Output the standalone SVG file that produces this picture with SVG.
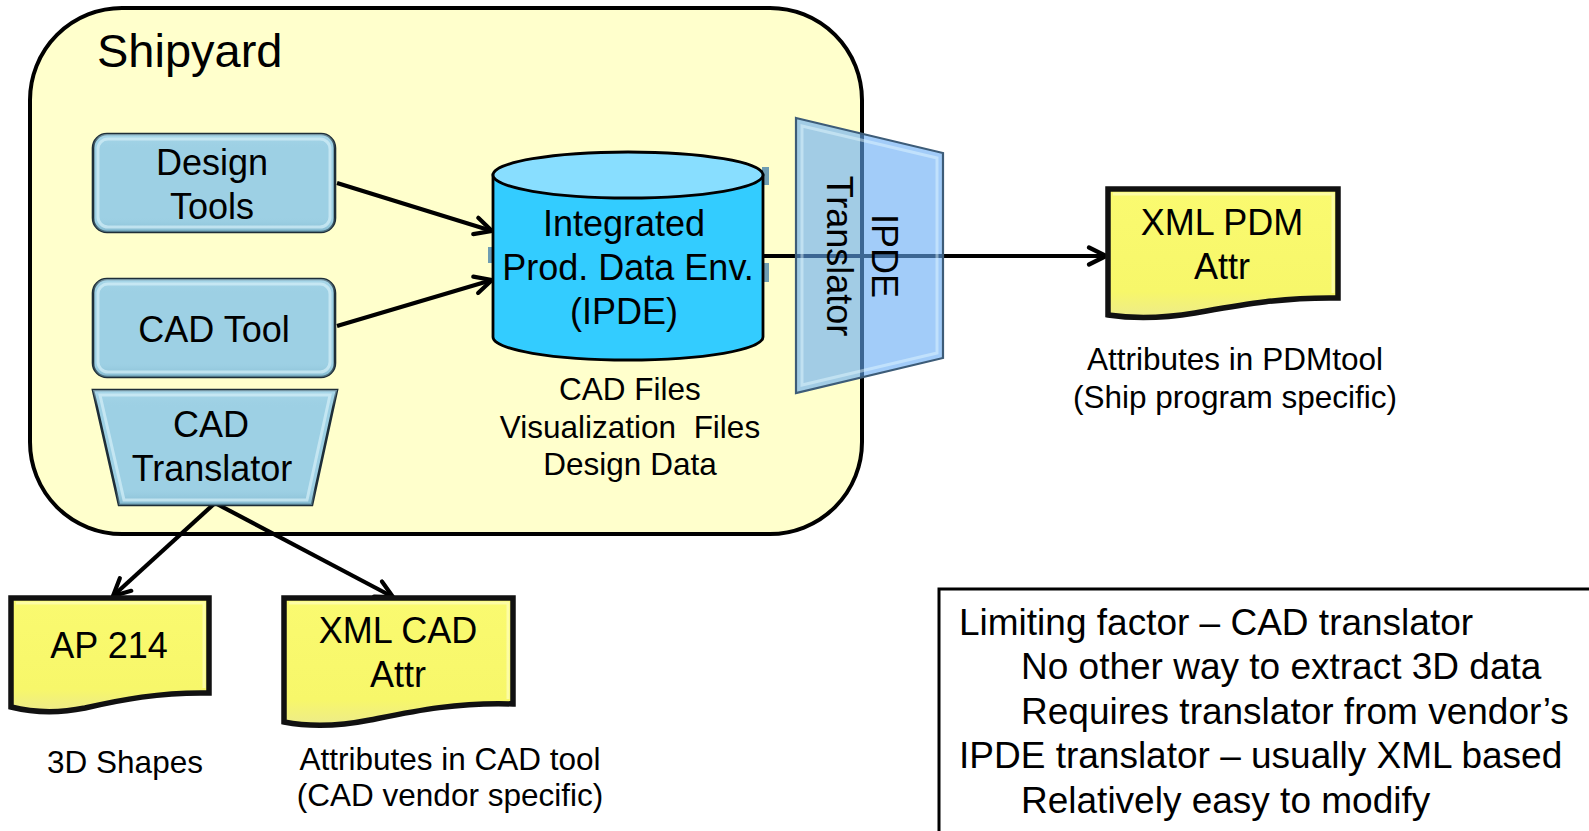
<svg xmlns="http://www.w3.org/2000/svg" width="1589" height="831" viewBox="0 0 1589 831">
  <style>
    text { font-family: "Liberation Sans", Arial, sans-serif; fill: #000; }
    .t36 { font-size: 36px; text-anchor: middle; }
    .cap { font-size: 31.5px; text-anchor: middle; }
    .note { font-size: 37px; }
    .tool { fill: #9DD0E4; stroke: #1E2E38; stroke-width: 2.6; }
    .bevel { fill: none; stroke: #D4F0F8; stroke-width: 3; opacity: 0.7; }
    .doc { fill: url(#docFill); stroke: #111; stroke-width: 5.5; stroke-linejoin: miter; }
    .docBevel { fill: none; stroke: #FFFFC8; stroke-width: 3; opacity: 0.6; }
    .conn { fill: none; stroke: #000; stroke-width: 4.2; marker-end: url(#arrow); }
  </style>
  <defs>
    <marker id="arrow" viewBox="0 0 24 22" refX="21" refY="11" markerWidth="24" markerHeight="22" markerUnits="userSpaceOnUse" orient="auto">
      <path d="M4,2.5 L21,11 L4,19.5" fill="none" stroke="#000" stroke-width="4.2" stroke-linecap="round" stroke-linejoin="round"/>
    </marker>
    <linearGradient id="docFill" x1="0" y1="0" x2="0" y2="1">
      <stop offset="0" stop-color="#FAFA70"/>
      <stop offset="0.8" stop-color="#F7F76A"/>
      <stop offset="1" stop-color="#EDEB8A"/>
    </linearGradient>
    <linearGradient id="toolShade" x1="0" y1="0" x2="0" y2="1">
      <stop offset="0" stop-color="#B4DEEE" stop-opacity="0.6"/>
      <stop offset="0.15" stop-color="#9DD0E4" stop-opacity="0"/>
      <stop offset="0.85" stop-color="#9DD0E4" stop-opacity="0"/>
      <stop offset="1" stop-color="#6FA7BE" stop-opacity="0.6"/>
    </linearGradient>
  </defs>

  <!-- Shipyard boundary -->
  <g id="shipyard">
    <rect x="30" y="8" width="832" height="526" rx="92" ry="92" fill="#FFFFCC" stroke="#000" stroke-width="4"/>
    <text x="97" y="67" font-size="47">Shipyard</text>
  </g>

  <!-- Connectors -->
  <g id="connectors">
    <line class="conn" x1="337" y1="183" x2="492" y2="231"/>
    <line class="conn" x1="337" y1="326" x2="492" y2="280"/>
    <line class="conn" x1="763" y1="256" x2="1106" y2="256"/>
    <line class="conn" x1="215" y1="503" x2="113" y2="596"/>
    <line class="conn" x1="215" y1="503" x2="393" y2="597"/>
  </g>

  <!-- Design Tools -->
  <g id="design-tools">
    <rect class="tool" x="93" y="134" width="242" height="98" rx="14"/>
    <rect x="93" y="134" width="242" height="98" rx="14" fill="url(#toolShade)"/>
    <rect class="bevel" x="98" y="139" width="232" height="88" rx="10"/>
    <text class="t36" x="212" y="175">Design</text>
    <text class="t36" x="212" y="219">Tools</text>
  </g>

  <!-- CAD Tool -->
  <g id="cad-tool">
    <rect class="tool" x="93" y="279" width="242" height="98" rx="14"/>
    <rect x="93" y="279" width="242" height="98" rx="14" fill="url(#toolShade)"/>
    <rect class="bevel" x="98" y="284" width="232" height="88" rx="10"/>
    <text class="t36" x="214" y="342">CAD Tool</text>
  </g>

  <!-- CAD Translator -->
  <g id="cad-translator">
    <polygon class="tool" points="93,390 337,390 312,505 119,505"/>
    <polygon points="93,390 337,390 312,505 119,505" fill="url(#toolShade)"/>
    <polygon class="bevel" points="100,395 330,395 307,500 124,500"/>
    <text class="t36" x="211" y="437">CAD</text>
    <text class="t36" x="212" y="481">Translator</text>
  </g>

  <!-- IPDE data store -->
  <g id="ipde">
    <rect x="762" y="167" width="7" height="18" fill="#6E9DB2"/>
    <rect x="762" y="263" width="7" height="19" fill="#6E9DB2"/>
    <rect x="488" y="247" width="6" height="16" fill="#6E9DB2"/>
    <path d="M493,175 L493,337 A135,23 0 0 0 763,337 L763,175 Z" fill="#33CCFF" stroke="#000" stroke-width="2.8"/>
    <ellipse cx="628" cy="175" rx="135" ry="23" fill="#88DEFF" stroke="#000" stroke-width="2.8"/>
    <text class="t36" x="624" y="236">Integrated</text>
    <text class="t36" x="628" y="280">Prod. Data Env.</text>
    <text class="t36" x="624" y="324">(IPDE)</text>
    <text class="cap" x="630" y="400">CAD Files</text>
    <text class="cap" x="630" y="438" xml:space="preserve">Visualization  Files</text>
    <text class="cap" x="630" y="475">Design Data</text>
  </g>

  <!-- IPDE Translator -->
  <g id="ipde-translator">
    <polygon points="796,118 943,153 943,358 796,393" fill="#64AAF5" fill-opacity="0.6" stroke="#3D5C78" stroke-width="2.2"/>
    <polygon points="802,126 937,158 937,353 802,385" fill="none" stroke="#E6FAFF" stroke-width="3" opacity="0.45"/>
    <text class="t36" transform="translate(827,256) rotate(90)">Translator</text>
    <text class="t36" transform="translate(872,256) rotate(90)">IPDE</text>
  </g>

  <!-- XML PDM Attr -->
  <g id="xml-pdm">
    <path class="doc" d="M1108,189 H1338 V298 C1280,297 1235,306 1195,313 C1165,318 1135,319 1108,315 Z"/>
    <path class="docBevel" d="M1113,194 H1333 V293"/>
    <text class="t36" x="1222" y="235">XML PDM</text>
    <text class="t36" x="1222" y="279">Attr</text>
    <text class="cap" x="1235" y="370">Attributes in PDMtool</text>
    <text class="cap" x="1235" y="408">(Ship program specific)</text>
  </g>

  <!-- AP 214 -->
  <g id="ap214">
    <path class="doc" d="M11,598 H209 V693 C160,692 120,700 85,708 C60,713 35,713 11,707 Z"/>
    <path class="docBevel" d="M16,603 H204 V688"/>
    <text class="t36" x="109" y="658">AP 214</text>
    <text class="cap" x="125" y="773">3D Shapes</text>
  </g>

  <!-- XML CAD Attr -->
  <g id="xml-cad">
    <path class="doc" d="M284,598 H513 V704 C455,702 410,712 370,720 C340,726 310,727 284,722 Z"/>
    <path class="docBevel" d="M289,603 H508 V699"/>
    <text class="t36" x="398" y="643">XML CAD</text>
    <text class="t36" x="398" y="687">Attr</text>
    <text class="cap" x="450" y="770">Attributes in CAD tool</text>
    <text class="cap" x="450" y="806">(CAD vendor specific)</text>
  </g>

  <!-- Notes box -->
  <g id="notes">
    <rect x="939" y="589" width="700" height="300" fill="#FFF" stroke="#000" stroke-width="3"/>
    <text class="note" x="959" y="635">Limiting factor – CAD translator</text>
    <text class="note" x="1021" y="679">No other way to extract 3D data</text>
    <text class="note" x="1021" y="724">Requires translator from vendor’s</text>
    <text class="note" x="959" y="768">IPDE translator – usually XML based</text>
    <text class="note" x="1021" y="813">Relatively easy to modify</text>
  </g>
</svg>
